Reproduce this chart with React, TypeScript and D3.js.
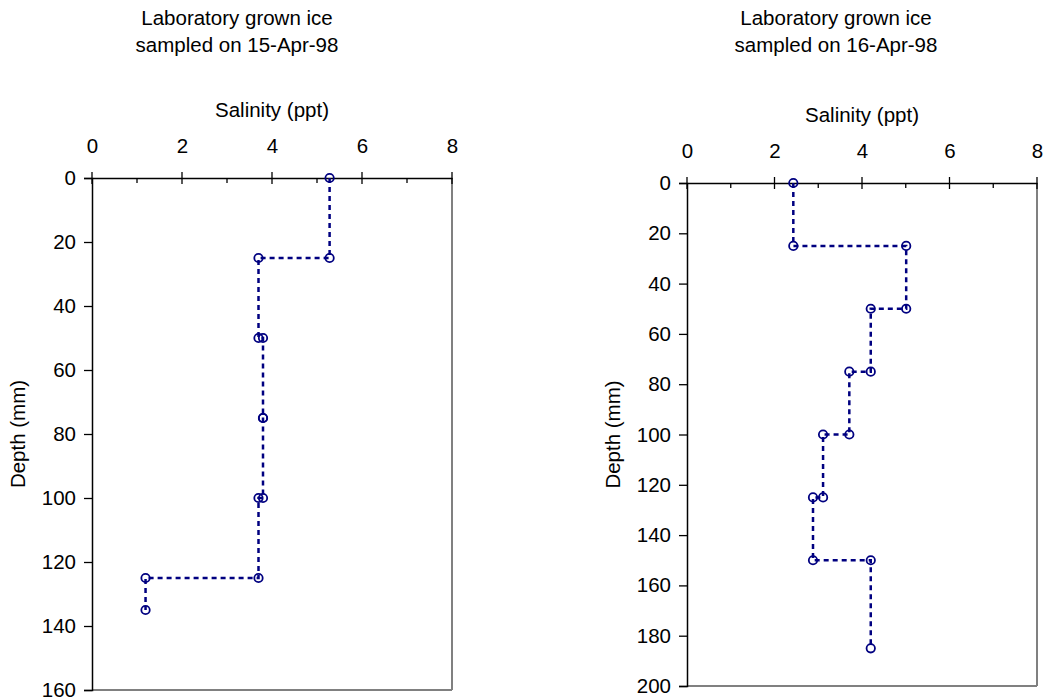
import React, { useEffect, useRef } from "react";
import * as d3 from "d3";

// ---- Data ----
const titleLine1 = "Laboratory grown ice";
const sampleDates = ["15-Apr-98", "16-Apr-98"];

// Sample on 15-Apr-98: each core section has a top depth, bottom depth and salinity
const top15 = [0, 25, 50, 75, 100, 125];
const bottom15 = [25, 50, 75, 100, 125, 135];
const sal15 = [5.28, 3.7, 3.8, 3.8, 3.7, 1.19];

// Sample on 16-Apr-98
const top16 = [0, 25, 50, 75, 100, 125, 150];
const bottom16 = [25, 50, 75, 100, 125, 150, 185];
const sal16 = [2.43, 5.01, 4.2, 3.71, 3.11, 2.88, 4.2];

const xTicks = [0, 2, 4, 6, 8];
const xMinorTicks = [1, 3, 5, 7];
const yTicks15 = [0, 20, 40, 60, 80, 100, 120, 140, 160];
const yTicks16 = [0, 20, 40, 60, 80, 100, 120, 140, 160, 180, 200];

const FONT = "'Liberation Sans', Arial, sans-serif";
const FS = 20.5;
const NAVY = "#000080";

type Cfg = {
  date: string;
  tops: number[];
  bottoms: number[];
  sal: number[];
  yMax: number;
  yTicks: number[];
  x0: number;
  x1: number;
  y0: number;
  y1: number;
  titleX: number;
  salBaseline: number;
  tickBaseline: number;
  depthX: number;
};

function drawChart(svg: d3.Selection<SVGSVGElement, unknown, null, undefined>, c: Cfg) {
  const x = d3.scaleLinear().domain([0, 8]).range([c.x0, c.x1]);
  const y = d3.scaleLinear().domain([0, c.yMax]).range([c.y0, c.y1]);
  const g = svg.append("g");

  // titles
  g.append("text").attr("x", c.titleX).attr("y", 25).attr("text-anchor", "middle")
    .attr("font-family", FONT).attr("font-size", FS).text(titleLine1);
  g.append("text").attr("x", c.titleX).attr("y", 52).attr("text-anchor", "middle")
    .attr("font-family", FONT).attr("font-size", FS).text("sampled on " + c.date);

  g.append("text").attr("x", (c.x0 + c.x1) / 2).attr("y", c.salBaseline).attr("text-anchor", "middle")
    .attr("font-family", FONT).attr("font-size", FS).text("Salinity (ppt)");

  g.append("text")
    .attr("transform", `translate(${c.depthX},${(c.y0 + c.y1) / 2}) rotate(-90)`)
    .attr("text-anchor", "middle").attr("font-family", FONT).attr("font-size", FS)
    .text("Depth (mm)");

  // frame right/bottom gray
  g.append("line").attr("x1", c.x1).attr("x2", c.x1).attr("y1", c.y0).attr("y2", c.y1)
    .attr("stroke", "#808080").attr("stroke-width", 2);
  g.append("line").attr("x1", c.x0).attr("x2", c.x1).attr("y1", c.y1).attr("y2", c.y1)
    .attr("stroke", "#808080").attr("stroke-width", 2);

  // x axis (top)
  const xAxis = d3.axisTop(x).tickValues(xTicks).tickSize(0).tickFormat(d3.format("d"));
  const gx = g.append("g").attr("transform", `translate(0,${c.y0})`).call(xAxis);
  gx.select(".domain").attr("stroke", "#000").attr("stroke-width", 1.5);
  gx.selectAll(".tick text").attr("font-family", FONT).attr("font-size", FS).attr("fill", "#000")
    .attr("dy", 0).attr("y", c.tickBaseline - c.y0);
  gx.selectAll(".tick line").remove();
  // major ticks crossing
  g.append("g").selectAll("line").data(xTicks).join("line")
    .attr("x1", (d) => x(d)).attr("x2", (d) => x(d))
    .attr("y1", c.y0 - 6).attr("y2", c.y0 + 6)
    .attr("stroke", "#000").attr("stroke-width", 1.3);
  // minor ticks inside
  g.append("g").selectAll("line").data(xMinorTicks).join("line")
    .attr("x1", (d) => x(d)).attr("x2", (d) => x(d))
    .attr("y1", c.y0).attr("y2", c.y0 + 5)
    .attr("stroke", "#000").attr("stroke-width", 1.3);

  // y axis (left)
  const yAxis = d3.axisLeft(y).tickValues(c.yTicks).tickSize(8).tickPadding(8).tickFormat(d3.format("d"));
  const gy = g.append("g").attr("transform", `translate(${c.x0},0)`).call(yAxis);
  gy.select(".domain").attr("stroke", "#000").attr("stroke-width", 1.5);
  gy.selectAll(".tick line").attr("stroke", "#000").attr("stroke-width", 1.3);
  gy.selectAll(".tick text").attr("font-family", FONT).attr("font-size", FS).attr("fill", "#000");

  // data
  const pts: [number, number][] = [];
  c.sal.forEach((s, i) => {
    pts.push([s, c.tops[i]]);
    pts.push([s, c.bottoms[i]]);
  });
  const line = d3.line<[number, number]>().x((d) => x(d[0])).y((d) => y(d[1]));
  g.append("path").attr("d", line(pts)).attr("fill", "none").attr("stroke", NAVY)
    .attr("stroke-width", 2.5).attr("stroke-dasharray", "5,4");
  g.append("g").selectAll("circle").data(pts).join("circle")
    .attr("cx", (d) => x(d[0])).attr("cy", (d) => y(d[1])).attr("r", 4.2)
    .attr("fill", "none").attr("stroke", NAVY).attr("stroke-width", 1.8);
}

export default function App() {
  const ref = useRef<SVGSVGElement>(null);
  useEffect(() => {
    const svg = d3.select(ref.current!);
    svg.selectAll("*").remove();
    drawChart(svg, {
      date: sampleDates[0], tops: top15, bottoms: bottom15, sal: sal15,
      yMax: 160, yTicks: yTicks15,
      x0: 92, x1: 452, y0: 178, y1: 690,
      titleX: 237, salBaseline: 117, tickBaseline: 153, depthX: 25,
    });
    drawChart(svg, {
      date: sampleDates[1], tops: top16, bottoms: bottom16, sal: sal16,
      yMax: 200, yTicks: yTicks16,
      x0: 687, x1: 1037, y0: 183, y1: 686,
      titleX: 836, salBaseline: 122, tickBaseline: 158, depthX: 620,
    });
  }, []);
  return (
    <svg ref={ref} width={1044} height={700}
      style={{ position: "absolute", left: 0, top: 0, background: "#fff" }} />
  );
}
